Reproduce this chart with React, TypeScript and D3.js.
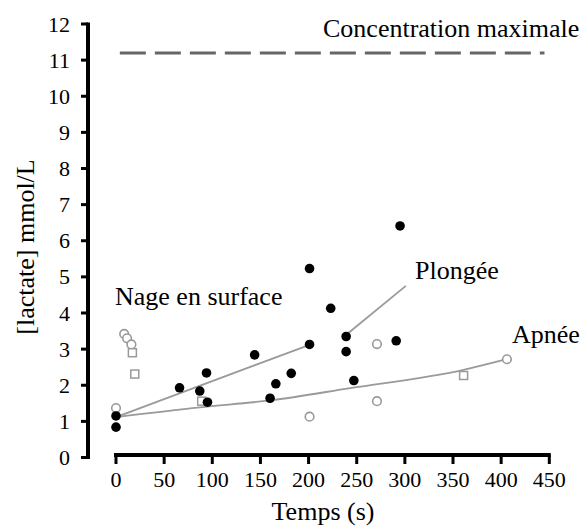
import React from "react";
import * as d3 from "d3";

const W = 587;
const H = 526;

const xTicks = [0, 50, 100, 150, 200, 250, 300, 350, 400, 450];
const yTicks = [0, 1, 2, 3, 4, 5, 6, 7, 8, 9, 10, 11, 12];

// Plongée (filled black points)
const plongeeT = [0, 0, 66, 87, 94, 95, 144, 160, 166, 182, 201, 201, 223, 239, 239, 247, 291, 295];
const plongeeV = [0.84, 1.15, 1.93, 1.84, 2.34, 1.53, 2.84, 1.64, 2.04, 2.33, 5.23, 3.13, 4.13, 3.35, 2.93, 2.13, 3.23, 6.41];

// Apnée (open gray markers)
const apneeT = [0, 89, 201, 271, 271, 361, 406];
const apneeV = [1.37, 1.56, 1.13, 3.14, 1.56, 2.27, 2.72];
const apneeShape = ["circle", "square", "circle", "circle", "circle", "square", "circle"];

// Nage en surface (open gray markers)
const surfaceT = [8.5, 11.5, 16, 17, 19.5];
const surfaceV = [3.42, 3.3, 3.13, 2.9, 2.31];
const surfaceShape = ["circle", "circle", "circle", "square", "square"];

// Regression / trend lines
const plongeeLineT = [0, 201];
const plongeeLineV = [1.12, 3.12];
const leaderT = [241, 301];
const leaderV = [3.44, 4.75];
const apneeLineT = [0, 87, 160, 243, 360, 406];
const apneeLineV = [1.12, 1.39, 1.58, 1.92, 2.42, 2.72];

const maxConc = 11.2;
const maxConcRange = [4, 445];

const FONT = "Liberation Serif";

export default function App() {
  const x = d3.scaleLinear().domain([0, 450]).range([116, 549.3]);
  const y = d3.scaleLinear().domain([0, 12]).range([457.5, 24]);

  const line = d3
    .line<[number, number]>()
    .x((d) => x(d[0]))
    .y((d) => y(d[1]));
  const curve = d3
    .line<[number, number]>()
    .x((d) => x(d[0]))
    .y((d) => y(d[1]))
    .curve(d3.curveMonotoneX);

  const gray = "#9a9a9a";
  const ts = (size: number) => ({ fontFamily: FONT, fontSize: size + "px" });

  const marker = (t: number, v: number, shape: string, key: string) =>
    shape === "square" ? (
      <rect key={key} x={x(t) - 4} y={y(v) - 4} width={8} height={8} fill="white" stroke={gray} strokeWidth={1.5} />
    ) : (
      <circle key={key} cx={x(t)} cy={y(v)} r={4.3} fill="white" stroke={gray} strokeWidth={1.6} />
    );

  return (
    <svg width={W} height={H} style={{ position: "absolute", left: 0, top: 0, background: "white", fontFamily: FONT }}>
      {/* Y axis */}
      <line x1={88} x2={88} y1={y(12) - 1.5} y2={y(0) + 1.5} stroke="black" strokeWidth={4} />
      {yTicks.map((t) => (
        <g key={"yt" + t}>
          <line x1={81} x2={88} y1={y(t)} y2={y(t)} stroke="black" strokeWidth={3} />
          <text x={70} y={y(t) + 7.5} textAnchor="end" style={ts(22)}>
            {t}
          </text>
        </g>
      ))}
      {/* X axis */}
      <line x1={x(0) - 2} x2={x(450) + 1.5} y1={455} y2={455} stroke="black" strokeWidth={4} />
      {xTicks.map((t) => (
        <g key={"xt" + t}>
          <line x1={x(t)} x2={x(t)} y1={455} y2={464} stroke="black" strokeWidth={3} />
          <text x={x(t)} y={487} textAnchor="middle" style={ts(22)}>
            {t}
          </text>
        </g>
      ))}
      <text x={323} y={520} textAnchor="middle" style={ts(26)}>
        Temps (s)
      </text>
      <text transform="translate(34,247) rotate(-90)" textAnchor="middle" style={ts(26)}>
        [lactate] mmol/L
      </text>

      {/* Max concentration */}
      <line
        x1={x(maxConcRange[0])}
        x2={x(maxConcRange[1])}
        y1={y(maxConc)}
        y2={y(maxConc)}
        stroke="#666"
        strokeWidth={3}
        strokeDasharray="26 9"
      />
      <text x={323} y={36.5} style={ts(26)}>
        Concentration maximale
      </text>

      {/* Trend lines */}
      <path d={line(plongeeLineT.map((t, i) => [t, plongeeLineV[i]]))!} fill="none" stroke={gray} strokeWidth={1.8} />
      <path d={line(leaderT.map((t, i) => [t, leaderV[i]]))!} fill="none" stroke={gray} strokeWidth={1.8} />
      <path d={curve(apneeLineT.map((t, i) => [t, apneeLineV[i]]))!} fill="none" stroke={gray} strokeWidth={1.8} />

      {/* Points */}
      {surfaceT.map((t, i) => marker(t, surfaceV[i], surfaceShape[i], "s" + i))}
      {apneeT.map((t, i) => marker(t, apneeV[i], apneeShape[i], "a" + i))}
      {plongeeT.map((t, i) => (
        <circle key={"p" + i} cx={x(t)} cy={y(plongeeV[i])} r={4.8} fill="black" />
      ))}

      {/* Labels */}
      <text x={115} y={305} style={ts(26)}>
        Nage en surface
      </text>
      <text x={415} y={279} style={ts(26)}>
        Plongée
      </text>
      <text x={512} y={343} style={ts(26)}>
        Apnée
      </text>
    </svg>
  );
}
